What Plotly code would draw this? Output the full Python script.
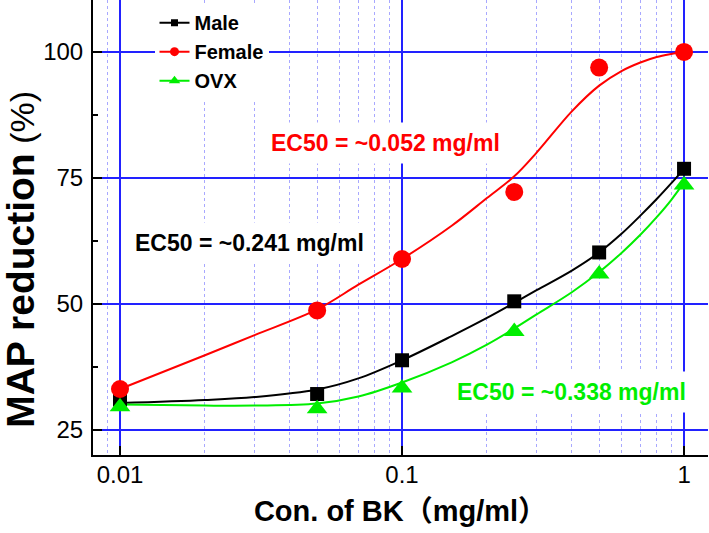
import math
import plotly.graph_objects as go

# ---- data ----
conc = [0.01, 0.05, 0.1, 0.25, 0.5, 1.0]
male = [31.0, 32.1, 38.8, 50.5, 60.2, 76.8]
female = [33.1, 48.7, 58.9, 72.2, 96.9, 100.0]
ovx = [29.6, 29.2, 33.3, 44.5, 55.9, 73.6]

# fitted curves as drawn in the reference
fit_x = [0.01, 0.02, 0.03, 0.05, 0.07, 0.1, 0.15, 0.2, 0.25, 0.3, 0.4, 0.5, 0.6, 0.7, 0.8, 0.9, 1.0]
male_fit = [30.3, 30.9, 31.5, 33.0, 35.2, 38.8, 43.6, 47.2, 50.2, 52.7, 56.6, 60.2, 63.9, 67.5, 70.8, 73.9, 76.8]
female_fit = [33.1, 39.8, 43.8, 48.9, 53.8, 58.9, 65.5, 71.0, 75.3, 80.0, 88.2, 93.3, 96.2, 97.9, 99.0, 99.6, 100.0]
ovx_fit = [30.0, 29.8, 29.8, 30.2, 31.6, 34.4, 38.4, 41.9, 45.1, 47.9, 52.3, 56.3, 60.1, 63.7, 67.2, 70.6, 74.1]

series_names = ["Male", "Female", "OVX"]
x_ticks = [0.01, 0.1, 1]
x_ticktext = ["0.01", "0.1", "1"]
y_ticks = [25, 50, 75, 100]
y_minor = [37.5, 62.5, 87.5]
ec50_text = ["EC50 = ~0.052 mg/ml", "EC50 = ~0.241 mg/ml", "EC50 = ~0.338 mg/ml"]

BLACK = "#000000"
RED = "#ff0000"
GREEN = "#00ee00"
GRID = "#2222ff"
FONT = "Arial, 'Liberation Sans', 'Noto Sans CJK SC', sans-serif"

fig = go.Figure()

styles = [
    (male, male_fit, BLACK, "square", 14, 7),
    (female, female_fit, RED, "circle", 18, 9),
    (ovx, ovx_fit, GREEN, "triangle-up", 18, 10),
]

for name, (pts, fit, col, sym, msize, lsize) in zip(series_names, styles):
    fig.add_trace(go.Scatter(
        x=fit_x, y=fit, mode="lines", line=dict(color=col, width=2, shape="spline", smoothing=1.0),
        showlegend=False, hoverinfo="skip"))

for name, (pts, fit, col, sym, msize, lsize) in zip(series_names, styles):
    fig.add_trace(go.Scatter(
        x=conc, y=pts, mode="markers",
        marker=dict(color=col, symbol=sym, size=msize, line=dict(width=0)),
        showlegend=False))

for name, (pts, fit, col, sym, msize, lsize) in zip(series_names, styles):
    fig.add_trace(go.Scatter(
        x=[None], y=[None], mode="lines+markers", name=name,
        line=dict(color=col, width=2),
        marker=dict(color=col, symbol=sym, size=lsize, line=dict(width=0))))

x_lo, x_hi = 0.00802, 1.216

fig.update_layout(
    width=709, height=533,
    margin=dict(l=93, r=1, t=0, b=78),
    paper_bgcolor="white", plot_bgcolor="white",
    font=dict(family=FONT, color="black"),
    legend=dict(
        x=0.100, y=0.993, xanchor="left", yanchor="top",
        bgcolor="white", borderwidth=0,
        font=dict(size=20, family=FONT, color="black", weight="bold"),
        tracegroupgap=0,
    ),
    xaxis=dict(
        type="log", range=[math.log10(x_lo), math.log10(x_hi)],
        automargin=False,
        tickmode="array", tickvals=x_ticks, ticktext=x_ticktext,
        ticks="inside", ticklen=9, tickwidth=2, tickcolor="black",
        showline=True, linewidth=2, linecolor="black",
        showgrid=True, gridcolor=GRID, gridwidth=1.5,
        zeroline=False,
        tickfont=dict(size=24, family=FONT, color="black"),
        ticklabelstandoff=-3,
        minor=dict(dtick="D1", showgrid=True, gridcolor="#a8a8ff", gridwidth=1,
                   griddash="dot", ticks=""),
        title=dict(text="<b>Con. of BK（mg/ml）</b>", font=dict(size=29, family=FONT, color="black"),
                   standoff=14),
    ),
    yaxis=dict(
        range=[20, 110.3],
        automargin=False,
        tickmode="array", tickvals=y_ticks,
        ticks="inside", ticklen=9, tickwidth=2, tickcolor="black",
        showline=True, linewidth=2, linecolor="black",
        showgrid=True, gridcolor=GRID, gridwidth=1.5,
        zeroline=False,
        tickfont=dict(size=24, family=FONT, color="black"),
        ticklabelstandoff=3,
        minor=dict(tickmode="array", tickvals=y_minor, ticks="inside", ticklen=5,
                   tickwidth=2, tickcolor="black", showgrid=False),
    ),
)

# y-axis title (placed as rotated text so it can sit where the reference has it)
fig.add_annotation(
    x=-0.118, y=0.43, xref="paper", yref="paper",
    text="<b>MAP reduction</b><span style='font-size:34px'> (%)</span>",
    textangle=-90, showarrow=False, xanchor="center", yanchor="middle",
    font=dict(size=39, family=FONT, color="black"))

ann_pos = [(0.476, 0.686, RED), (0.254, 0.466, BLACK), (0.778, 0.139, GREEN)]
for txt, (ax, ay, col) in zip(ec50_text, ann_pos):
    fig.add_annotation(
        x=ax, y=ay, xref="paper", yref="paper", text="<b>" + txt + "</b>",
        showarrow=False, font=dict(size=23, family=FONT, color=col),
        bgcolor="white", borderpad=7, xanchor="center", yanchor="middle")

fig.write_html("out.html", config={"displayModeBar": False},
               post_script="document.body.style.margin='0';")
